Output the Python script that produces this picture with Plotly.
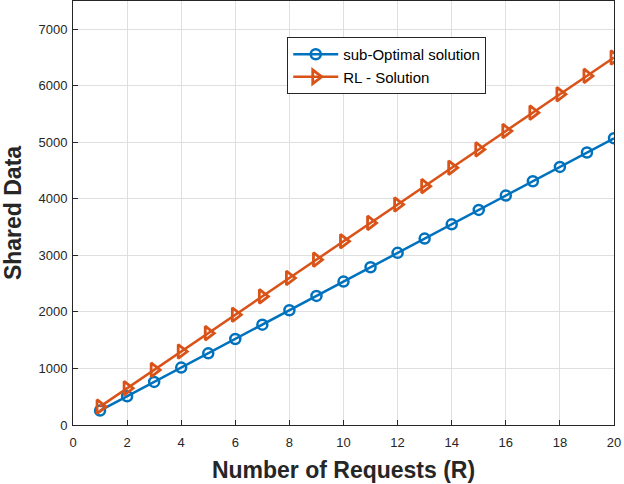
import plotly.graph_objects as go

requests = list(range(1, 21))
sub_optimal = [255, 508, 762, 1015, 1268, 1522, 1775, 2030, 2283, 2537,
               2790, 3045, 3298, 3550, 3805, 4058, 4312, 4565, 4820, 5072]
rl_solution = [325, 650, 975, 1300, 1625, 1950, 2275, 2600, 2925, 3250,
               3575, 3900, 4225, 4550, 4875, 5200, 5525, 5850, 6175, 6500]

fig = go.Figure()
fig.add_trace(go.Scatter(
    x=requests, y=sub_optimal, mode="lines+markers", name="sub-Optimal solution",
    line=dict(color="#0072BD", width=2.5),
    marker=dict(symbol="circle-open", size=10, color="#0072BD", line=dict(width=2.5)),
))
fig.add_trace(go.Scatter(
    x=requests, y=rl_solution, mode="lines+markers", name="RL - Solution",
    line=dict(color="#D95319", width=2.5),
    marker=dict(symbol="triangle-right-open", size=12, color="#D95319", line=dict(width=2.8)),
))

axis_common = dict(
    showline=True, linecolor="#262626", linewidth=1, mirror=True,
    showgrid=True, gridcolor="#DFDFDF", gridwidth=1,
    ticks="inside", ticklen=5, tickcolor="#262626", zeroline=False,
    automargin=False,
    tickfont=dict(family="Liberation Sans, Arial", size=13, color="#262626"),
)
fig.update_xaxes(range=[0, 20], dtick=2, ticklabelstandoff=5,
                 title=dict(text="<b>Number of Requests (R)</b>",
                            font=dict(family="Liberation Sans, Arial", size=23, color="#262626"),
                            standoff=13),
                 **axis_common)
fig.update_yaxes(range=[0, 7500], tickvals=[0, 1000, 2000, 3000, 4000, 5000, 6000, 7000],
                 ticklabelstandoff=2,
                 title=dict(text="<b>Shared Data</b>",
                            font=dict(family="Liberation Sans, Arial", size=23, color="#262626"),
                            standoff=21),
                 **axis_common)

fig.update_layout(
    width=624, height=484,
    margin=dict(l=73, r=10, t=1, b=59, autoexpand=False),
    plot_bgcolor="white", paper_bgcolor="white",
    legend=dict(x=0.396, y=0.915, xanchor="left", yanchor="top",
                bgcolor="white", bordercolor="#262626", borderwidth=1,
                font=dict(family="Liberation Sans, Arial", size=15, color="#000000"),
                tracegroupgap=0, itemwidth=45),
    showlegend=True,
)
fig.write_html("out.html", config={"displayModeBar": False},
               post_script="document.body.style.margin='0px';document.body.style.overflow='hidden';")
